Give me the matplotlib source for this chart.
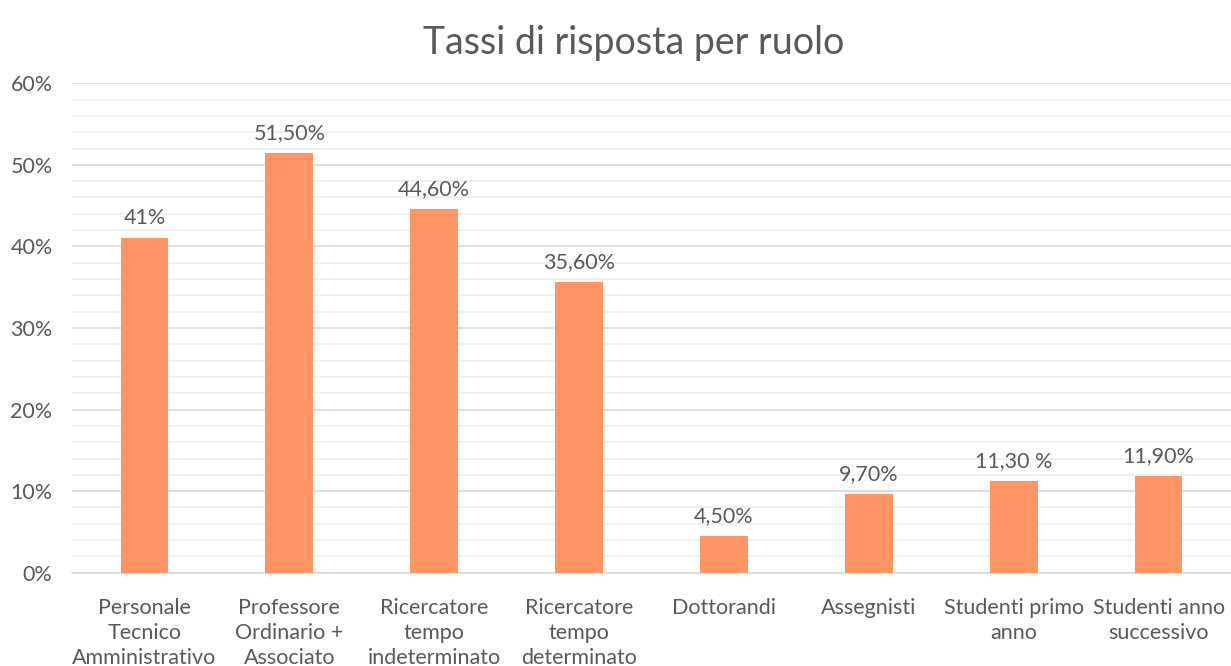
import matplotlib.pyplot as plt
from matplotlib.ticker import MultipleLocator, FuncFormatter

plt.rcParams['font.family'] = ['Lato', 'DejaVu Sans']

# data
categories = ["Personale\nTecnico\nAmministrativo", "Professore\nOrdinario +\nAssociato",
              "Ricercatore\ntempo\nindeterminato", "Ricercatore\ntempo\ndeterminato",
              "Dottorandi", "Assegnisti", "Studenti primo\nanno", "Studenti anno\nsuccessivo"]
values = [0.41, 0.515, 0.446, 0.356, 0.045, 0.097, 0.113, 0.119]
value_labels = ["41%", "51,50%", "44,60%", "35,60%", "4,50%", "9,70%", "11,30 %", "11,90%"]

grey = '#595959'
fig = plt.figure(figsize=(12.31, 6.66), dpi=100)
ax = fig.add_axes([0.0585, 0.14, 0.9415, 0.735])

x = range(len(categories))
bars = ax.bar(x, values, width=0.33, color='#FF9466', zorder=3)
for b, lab in zip(bars, value_labels):
    ax.text(b.get_x() + b.get_width() / 2, b.get_height() + 0.012, lab,
            ha='center', va='bottom', fontsize=15.5, color=grey)

ax.set_xlim(-0.5, len(categories) - 0.5)
ax.set_ylim(0, 0.6)
ax.yaxis.set_major_locator(MultipleLocator(0.1))
ax.yaxis.set_minor_locator(MultipleLocator(0.02))
ax.yaxis.set_major_formatter(FuncFormatter(lambda v, p: f"{v*100:.0f}%"))
ax.grid(axis='y', which='major', color='#D9D9D9', linewidth=1.2, zorder=0)
ax.grid(axis='y', which='minor', color='#EEEEEE', linewidth=1.2, zorder=0)
ax.set_xticks(list(x))
ax.set_xticklabels(categories, fontsize=15.5, color=grey, linespacing=1.33)
ax.tick_params(axis='y', labelsize=15.5, labelcolor=grey, length=0, pad=14)
ax.tick_params(axis='y', which='minor', length=0)
ax.tick_params(axis='x', length=0, pad=18)
for s in ['top', 'right', 'left']:
    ax.spines[s].set_visible(False)
ax.spines['bottom'].set_color('#D9D9D9')
ax.spines['bottom'].set_linewidth(1.2)

fig.text(0.515, 0.935, "Tassi di risposta per ruolo", ha='center', va='center',
         fontsize=27, color=grey)

fig.savefig("out.png", dpi=100)
